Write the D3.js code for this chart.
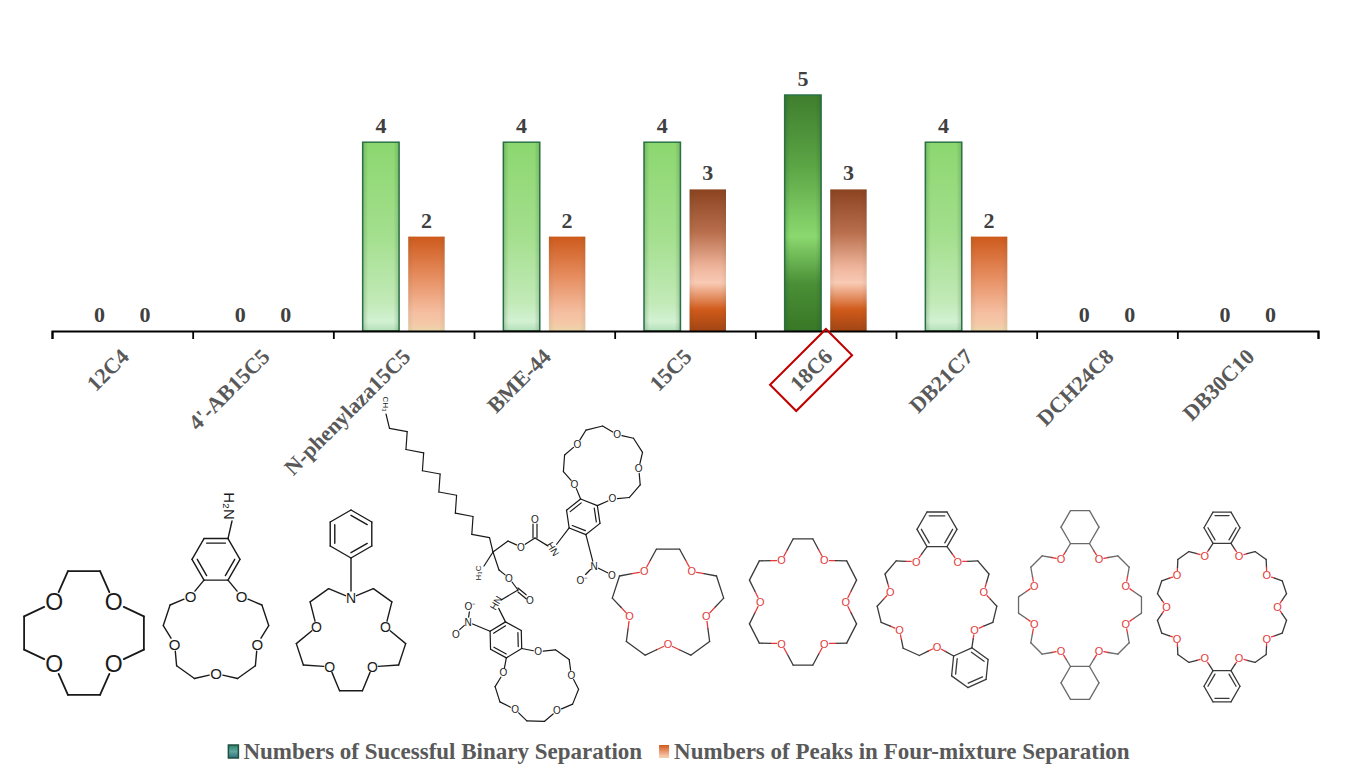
<!DOCTYPE html>
<html lang="en">
<head>
  <meta charset="UTF-8">
  <title>crown ether separation counts</title>
  <script src="https://d3js.org/d3.v7.min.js"></script>
  <style>
    body { margin: 0; background: #fff; }
    .serif { font-family: "Times New Roman", "Liberation Serif", serif; font-weight: bold; }
    .atom { font-family: Arial, "Liberation Sans", sans-serif; }
  </style>
</head>
<body>
  <svg id="chart" width="1355" height="772"></svg>
  <script>
    // data
    const categories = ["12C4", "4'-AB15C5", "N-phenylaza15C5", "BME-44", "15C5", "18C6", "DB21C7", "DCH24C8", "DB30C10"];
    const binaryCounts = [0, 0, 4, 4, 4, 5, 4, 0, 0];
    const peakCounts = [0, 0, 2, 2, 3, 3, 2, 0, 0];
    const seriesKeys = ["binary", "peaks"];
    const seriesNames = ["Numbers of Sucessful Binary Separation", "Numbers of Peaks in Four-mixture Separation"];
    const highlighted = "18C6";

    const svg = d3.select('svg#chart');
    const baseY = 331;
    const x = d3.scaleBand().domain(categories).range([52, 1318]);
    const sub = d3.scaleBand().domain(seriesKeys).range([0, 82]).paddingInner(0.2);
    const y = d3.scaleLinear().domain([0, 5]).range([baseY, 95]);
    const edge = d3.scaleLinear().domain([0, categories.length]).range(x.range());

    // gradients
    const defs = svg.append('defs');
    function vGrad(id, stops) {
      const g = defs.append('linearGradient').attr('id', id)
        .attr('x1', 0).attr('y1', 0).attr('x2', 0).attr('y2', 1);
      stops.forEach(s => g.append('stop').attr('offset', s[0]).attr('stop-color', s[1]));
    }
    vGrad('gGreen', [[0, '#8cd770'], [0.5, '#a4df8e'], [0.85, '#c2eab8'], [0.95, '#d2f1d2'], [1, '#b4dfb8']]);
    vGrad('gGreenMax', [[0, '#3f7e2e'], [0.3, '#5ba545'], [0.6, '#8bd86f'], [0.8, '#4a8f36'], [1, '#387726']]);
    vGrad('gOrange', [[0, '#cd5a1c'], [0.4, '#e58a5c'], [0.8, '#f5bea0'], [0.93, '#f4c9a8'], [1, '#ebd6a8']]);
    vGrad('gOrangeMax', [[0, '#8b4320'], [0.3, '#b86e4c'], [0.55, '#efb59c'], [0.66, '#f9cab4'], [0.85, '#d05a1a'], [1, '#a24514']]);
    vGrad('gLegend', [[0, '#2f7f6a'], [0.5, '#5fa8a0'], [1, '#2f6f7a']]);
    const sheen = defs.append('linearGradient').attr('id', 'gSheen');
    [[0, 0.22], [0.15, 0], [0.85, 0], [1, 0.22]].forEach(s =>
      sheen.append('stop').attr('offset', s[0]).attr('stop-color', '#1d4a2a').attr('stop-opacity', s[1]));

    const maxBinary = d3.max(binaryCounts);
    const maxPeaks = d3.max(peakCounts);
    const rows = categories.map((c, i) => ({ cat: c, binary: binaryCounts[i], peaks: peakCounts[i] }));

    // bars
    const chart = svg.append('g');
    rows.forEach(d => {
      const g0 = x(d.cat) + x.bandwidth() / 2 - 41;
      seriesKeys.forEach(k => {
        const v = d[k];
        const bx = g0 + sub(k);
        if (v > 0) {
          let fill, stroke;
          if (k === 'binary') { fill = v === maxBinary ? 'url(#gGreenMax)' : 'url(#gGreen)'; stroke = '#2c7448'; }
          else { fill = v === maxPeaks ? 'url(#gOrangeMax)' : 'url(#gOrange)'; stroke = 'none'; }
          chart.append('rect').attr('x', bx).attr('y', y(v))
            .attr('width', sub.bandwidth()).attr('height', baseY - y(v))
            .attr('fill', fill).attr('stroke', stroke).attr('stroke-width', 1.5);
          chart.append('rect').attr('x', bx).attr('y', y(v))
            .attr('width', sub.bandwidth()).attr('height', baseY - y(v))
            .attr('fill', 'url(#gSheen)').attr('opacity', k === 'binary' ? 1 : 0.35);
        }
        chart.append('text').attr('class', 'serif')
          .attr('x', bx + sub.bandwidth() / 2).attr('y', y(v) - 9)
          .attr('text-anchor', 'middle').attr('font-size', 22).attr('fill', '#404040')
          .text(v);
      });
    });

    // axis with ticks at category edges
    const axis = svg.append('g').attr('transform', `translate(0,${baseY})`)
      .call(d3.axisBottom(edge).ticks(categories.length).tickSize(8).tickSizeOuter(8).tickFormat(''));
    axis.select('.domain').attr('stroke', '#000').attr('stroke-width', 2);
    axis.selectAll('.tick line').attr('stroke', '#000').attr('stroke-width', 1.8);

    // rotated category labels
    categories.forEach(c => {
      const ax = x(c) + x.bandwidth() / 2 + 8, ay = 358;
      const lg = svg.append('g').attr('transform', `translate(${ax},${ay}) rotate(-45)`);
      const t = lg.append('text').attr('class', 'serif').attr('text-anchor', 'end')
        .attr('font-size', 22).attr('fill', '#595959').text(c);
      if (c === highlighted) {
        const L = t.node().getComputedTextLength();
        lg.append('rect').attr('x', -L / 2 - 39.5).attr('y', -26).attr('width', 79).attr('height', 37)
          .attr('fill', 'none').attr('stroke', '#c00000').attr('stroke-width', 2);
      }
    });

    // legend
    const legend = svg.append('g');
    const fills = ['url(#gLegend)', 'url(#gOrange)'];
    const strokes = ['#1f4f3f', 'none'];
    let lx = 0;
    seriesNames.forEach((name, i) => {
      legend.append('rect').attr('x', lx).attr('y', -14).attr('width', 10).attr('height', 13)
        .attr('fill', fills[i]).attr('stroke', strokes[i]).attr('stroke-width', 1.5);
      const t = legend.append('text').attr('class', 'serif').attr('x', lx + 15).attr('y', 0)
        .attr('font-size', 23).attr('fill', '#595959').text(name);
      lx += 15 + t.node().getComputedTextLength() + 17;
    });
    legend.attr('transform', `translate(${(1375 - lx) / 2},759)`);

    // ---------- structure drawings under the labels ----------
    const mol = svg.append('g');
    const S3 = Math.sqrt(3);

    function seg(a, b, color, w) {
      mol.append('line').attr('x1', a[0]).attr('y1', a[1]).attr('x2', b[0]).attr('y2', b[1])
        .attr('stroke', color).attr('stroke-width', w).attr('stroke-linecap', 'round');
    }
    // bond with optional gaps at labelled ends, halves coloured by atom
    function bond(a, b, o) {
      const dx = b[0] - a[0], dy = b[1] - a[1], L = Math.hypot(dx, dy);
      const ga = o.ga || 0, gb = o.gb || 0;
      const p = [a[0] + dx * ga / L, a[1] + dy * ga / L];
      const q = [b[0] - dx * gb / L, b[1] - dy * gb / L];
      if (o.ca === o.cb) { seg(p, q, o.ca, o.w); return; }
      const m = [(a[0] + b[0]) / 2, (a[1] + b[1]) / 2];
      seg(p, m, o.ca, o.w); seg(m, q, o.cb, o.w);
    }
    function label(p, txt, color, size, rot) {
      mol.append('text').attr('class', 'atom')
        .attr('transform', `translate(${p[0]},${p[1]}) rotate(${rot || 0})`)
        .attr('text-anchor', 'middle').attr('dominant-baseline', 'central')
        .attr('font-size', size).attr('fill', color).text(txt);
    }
    function hexOnEdge(p1, p2, away, side) {
      const m = [(p1[0] + p2[0]) / 2, (p1[1] + p2[1]) / 2];
      let ex = p2[0] - p1[0], ey = p2[1] - p1[1];
      const L = Math.hypot(ex, ey); ex /= L; ey /= L;
      let nx = -ey, ny = ex;
      if ((m[0] - away[0]) * nx + (m[1] - away[1]) * ny < 0) { nx = -nx; ny = -ny; }
      const a = [m[0] - ex * side / 2, m[1] - ey * side / 2];
      const b = [m[0] + ex * side / 2, m[1] + ey * side / 2];
      const hc = [m[0] + nx * side * S3 / 2, m[1] + ny * side * S3 / 2];
      return hexAround(hc, a, b);
    }
    function hexAround(hc, a, b) {
      const rot = (p, ang) => {
        const c = Math.cos(ang), s = Math.sin(ang), vx = p[0] - hc[0], vy = p[1] - hc[1];
        return [hc[0] + vx * c - vy * s, hc[1] + vx * s + vy * c];
      };
      let dir = Math.PI / 3;
      const t = rot(a, dir);
      if (b && Math.hypot(t[0] - b[0], t[1] - b[1]) > 1) dir = -dir;
      const v = d3.range(6).map(k => rot(a, k * dir));
      v.center = hc;
      return v;
    }
    function drawHex(v, color, w, aromatic) {
      for (let k = 0; k < 6; k++) seg(v[k], v[(k + 1) % 6], color, w);
      if (!aromatic) return;
      const hc = v.center;
      [1, 3, 5].forEach(k => {
        const a = v[k], b = v[(k + 1) % 6];
        const ia = [a[0] + (hc[0] - a[0]) * 0.22, a[1] + (hc[1] - a[1]) * 0.22];
        const ib = [b[0] + (hc[0] - b[0]) * 0.22, b[1] + (hc[1] - b[1]) * 0.22];
        seg(ia, ib, color, w);
      });
    }
    function nearest(v, pt) {
      return v.reduce((best, p) => Math.hypot(p[0] - pt[0], p[1] - pt[1]) < Math.hypot(best[0] - pt[0], best[1] - pt[1]) ? p : best);
    }
    // macrocycle: atoms on an ellipse, O/N pulled inward for the zigzag, fused rings on A-A pairs
    function crown(s) {
      const n = s.seq.length;
      const pts = s.seq.split('').map((t, i) => {
        const a = (s.start + i * 360 / n) * Math.PI / 180;
        const f = t === 'O' ? s.oF : t === 'N' ? (s.nF || s.oF) : 1;
        return [s.cx + s.rx * f * Math.cos(a), s.cy + s.ry * f * Math.sin(a)];
      });
      const hexes = [];
      const fusedBond = {};
      for (let i = 0; i < n; i++) {
        const j = (i + 1) % n;
        if (s.seq[i] === 'A' && s.seq[j] === 'A' && !fusedBond[(i + n - 1) % n]) {
          const h = hexOnEdge(pts[i], pts[j], [s.cx, s.cy], s.hex);
          pts[i] = h[0]; pts[j] = h[1];
          hexes.push(h); fusedBond[i] = true;
        }
      }
      const isLab = t => t === 'O' || t === 'N';
      const col = t => isLab(t) ? s.oc : s.bc;
      for (let i = 0; i < n; i++) {
        const j = (i + 1) % n;
        if (fusedBond[i]) continue;
        bond(pts[i], pts[j], {
          ga: isLab(s.seq[i]) ? s.gap : 0, gb: isLab(s.seq[j]) ? s.gap : 0,
          ca: col(s.seq[i]), cb: col(s.seq[j]), w: s.w
        });
      }
      hexes.forEach(h => drawHex(h, s.hc || s.bc, s.w, s.aromatic));
      s.seq.split('').forEach((t, i) => { if (isLab(t)) label(pts[i], t, s.oc, s.fs); });
      return { pts, hexes };
    }

    const black = '#1a1a1a', grey = '#3a3a3a', red = '#e23a3a';

    // 12C4
    crown({ seq: 'OCCOCCOCCOCC', cx: 84, cy: 633, rx: 62, ry: 64, start: -135, oF: 0.68,
      bc: black, oc: black, fs: 23, gap: 11, w: 1.8 });

    // 4'-AB15C5
    const ab = crown({ seq: 'AAOCCOCCOCCOCCO', cx: 216, cy: 631, rx: 53, ry: 52, start: -102, oF: 0.82,
      bc: black, oc: black, fs: 15, gap: 7, w: 1.4, hex: 24, aromatic: true });
    {
      const v = nearest(ab.hexes[0], [232, 530]);
      bond(v, [232, 521], { gb: 0, ca: black, cb: black, w: 1.4 });
      label([229, 506], 'H\u2082N', black, 15, 90);
    }

    // N-phenylaza15C5
    const az = crown({ seq: 'NCCOCCOCCOCCOCC', cx: 351, cy: 638, rx: 55, ry: 54, start: -90, oF: 0.66, nF: 0.74,
      bc: black, oc: black, fs: 14, gap: 6, w: 1.4 });
    {
      const nPos = az.pts[0];
      const ph = hexAround([nPos[0], 534], [nPos[0], 558]);
      drawHex(ph, black, 1.4, true);
      bond(nPos, [nPos[0], 558], { ga: 7, ca: black, cb: black, w: 1.4 });
    }

    // BME-44 (simplified skeleton)
    {
      const w = 1.2, fs = 10;
      const o = { ca: black, cb: black, w };
      const start = [386, 414], q = [493, 552];
      const nSeg = 13;
      const dx = q[0] - start[0], dy = q[1] - start[1], L = Math.hypot(dx, dy);
      const px = -dy / L, py = dx / L;
      const chain = d3.range(nSeg + 1).map(i => {
        const t = i / nSeg, off = (i % 2 ? 6 : -6) * (i === 0 || i === nSeg ? 0 : 1);
        return [start[0] + dx * t + px * off, start[1] + dy * t + py * off];
      });
      for (let i = 0; i < nSeg; i++) bond(chain[i], chain[i + 1], o);
      label([385, 404], 'CH\u2083', black, 8, 90);
      bond(q, [484, 566], o); label([478, 573], 'H\u2083C', black, 8, -90);

      // upper arm
      const c1 = [508, 541], o1 = [521, 547], cc1 = [535, 538], od1 = [535, 519], n1 = [553, 549];
      bond(q, c1, o); bond(c1, o1, { ...o, gb: 5 }); bond(o1, cc1, { ...o, ga: 5 });
      bond([cc1[0] - 2, cc1[1]], [od1[0] - 2, od1[1]], { ...o, gb: 5 });
      bond([cc1[0] + 2, cc1[1]], [od1[0] + 2, od1[1]], { ...o, gb: 5 });
      bond(cc1, n1, { ...o, gb: 6 });
      label(o1, 'O', black, fs); label(od1, 'O', black, fs); label(n1, 'HN', black, fs, 60);
      const up = crown({ seq: 'AAOCCOCCOCCOCCO', cx: 604, cy: 466, rx: 41, ry: 40, start: 100, oF: 0.85,
        bc: black, oc: black, fs: fs, gap: 5, w, hex: 18, aromatic: true });
      const uh = up.hexes[0];
      bond(n1, nearest(uh, [558, 540]), { ...o, ga: 6 });
      const un = [594, 566];
      bond(nearest(uh, [588, 556]), un, { ...o, gb: 5 });
      label(un, 'N', black, fs); label([582, 580], 'O\u207B', black, fs); label([612, 575], 'O', black, fs);
      bond(un, [582, 578], { ...o, ga: 5, gb: 5 });
      bond(un, [612, 575], { ...o, ga: 5, gb: 5 });

      // lower arm
      const c2 = [499, 570], o2 = [509, 578], cc2 = [518, 590], od2 = [530, 600], n2 = [496, 603];
      bond(q, c2, o); bond(c2, o2, { ...o, gb: 5 }); bond(o2, cc2, { ...o, ga: 5 });
      bond([cc2[0], cc2[1] - 2], [od2[0], od2[1] - 2], { ...o, gb: 5 });
      bond([cc2[0], cc2[1] + 2], [od2[0], od2[1] + 2], { ...o, gb: 5 });
      bond(cc2, n2, { ...o, gb: 6 });
      label(o2, 'O', black, fs); label(od2, 'O', black, fs); label(n2, 'HN', black, fs, -60);
      const lo = crown({ seq: 'AAOCCOCCOCCOCCO', cx: 537, cy: 684, rx: 42, ry: 38, start: -136, oF: 0.85,
        bc: black, oc: black, fs: fs, gap: 5, w, hex: 18, aromatic: true });
      const lh = lo.hexes[0];
      bond(n2, nearest(lh, [500, 615]), { ...o, ga: 6 });
      const ln = [468, 622];
      bond(nearest(lh, [480, 628]), ln, { ...o, gb: 5 });
      label(ln, 'N', black, fs); label([470, 606], 'O\u207B', black, fs); label([456, 634], 'O', black, fs);
      bond(ln, [470, 607], { ...o, ga: 5, gb: 5 });
      bond(ln, [456, 633], { ...o, ga: 5, gb: 5 });
    }

    // 15C5
    crown({ seq: 'CCOCCOCCOCCOCCO', cx: 668, cy: 604, rx: 56, ry: 56, start: -102, oF: 0.72,
      bc: grey, oc: red, fs: 11, gap: 5, w: 1.3 });
    // 18C6
    crown({ seq: 'CCOCCOCCOCCOCCOCCO', cx: 803, cy: 602, rx: 57, ry: 64, start: -100, oF: 0.75,
      bc: grey, oc: red, fs: 11, gap: 5, w: 1.3 });
    // DB21C7
    crown({ seq: 'AAOCCOCCOAAOCCOCCOCCO', cx: 937, cy: 602, rx: 60, ry: 56, start: -90 - 360 / 42, oF: 0.8,
      bc: grey, oc: red, fs: 11, gap: 5, w: 1.3, hex: 20, aromatic: true });
    // DCH24C8
    crown({ seq: 'AAOCCOCCOCCOAAOCCOCCOCCO', cx: 1080, cy: 605, rx: 62, ry: 62, start: -97.5, oF: 0.8,
      bc: '#6a6a6a', hc: '#6a6a6a', oc: red, fs: 11, gap: 5, w: 1.3, hex: 19, aromatic: false });
    // DB30C10
    crown({ seq: 'AAOCCOCCOCCOCCOAAOCCOCCOCCOCCO', cx: 1222, cy: 607, rx: 66, ry: 64, start: -96, oF: 0.84,
      bc: grey, oc: red, fs: 11, gap: 5, w: 1.3, hex: 18, aromatic: true });
  </script>
</body>
</html>
